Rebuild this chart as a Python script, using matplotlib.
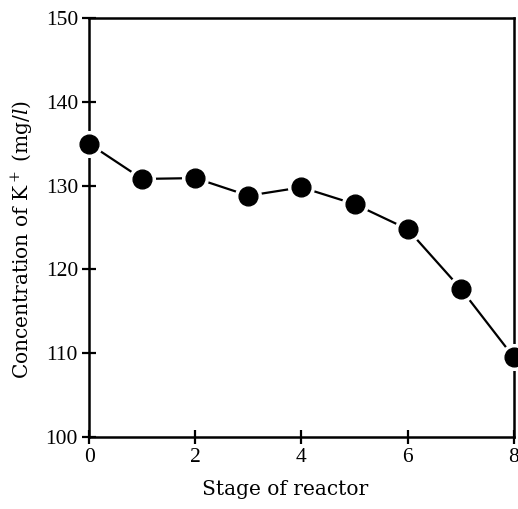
import matplotlib
matplotlib.use("Agg")
import matplotlib.pyplot as plt

stages = [0, 1, 2, 3, 4, 5, 6, 7, 8]
k_conc = [135.0, 130.8, 130.9, 128.8, 129.8, 127.8, 124.8, 117.7, 109.5]
xticks = [0, 2, 4, 6, 8]
yticks = [100, 110, 120, 130, 140, 150]

plt.rcParams['font.family'] = ['Liberation Serif', 'DejaVu Serif']
plt.rcParams['mathtext.fontset'] = 'dejavuserif'

fig = plt.figure(figsize=(5.18, 5.09), dpi=100)
ax = fig.add_axes([0.172, 0.1415, 0.82, 0.823])

ax.plot(stages, k_conc, color='black', lw=1.6, zorder=2, clip_on=False)
ax.plot(stages, k_conc, 'o', ms=18.5, color='white', zorder=3, clip_on=False)
ax.plot(stages, k_conc, 'o', ms=13.5, color='black', zorder=4, clip_on=False)

ax.set_xlim(0, 8)
ax.set_ylim(100, 150)
ax.set_xticks(xticks)
ax.set_yticks(yticks)
ax.tick_params(direction='inout', length=10, width=1.6, labelsize=15.5, pad=3)
for s in ax.spines.values():
    s.set_linewidth(1.8)

lab_font = dict(family=['DejaVu Serif'], fontsize=14.5)
ax.set_xlabel('Stage of reactor', **lab_font)
ax.set_ylabel(r'Concentration of K$^+$ (mg/$\mathit{l}$)', **lab_font)
ax.xaxis.set_label_coords((285 - 89) / (514 - 89), -(490 - 437) / (437 - 18))
ax.yaxis.set_label_coords(-(89 - 22) / (514 - 89), (437 - 240) / (437 - 18))
ax.xaxis.label.set_va('center')
ax.yaxis.label.set_va('center')

fig.savefig('out.png', dpi=100)
